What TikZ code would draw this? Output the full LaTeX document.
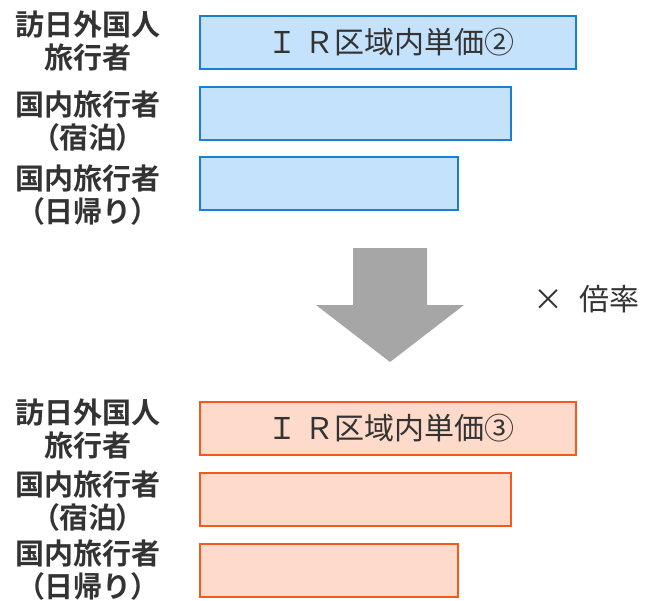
\documentclass[tikz,border=0pt]{standalone}
\usepackage{fontspec}
\newfontfamily\jp{Noto Sans CJK JP}
\newfontfamily\jpb{Noto Sans CJK JP Bold}
\newfontfamily\jpbp[RawFeature=+palt]{Noto Sans CJK JP Bold}
\definecolor{txt}{HTML}{333333}
\definecolor{bfill}{HTML}{C5E2FC}
\definecolor{bline}{HTML}{1A7ED6}
\definecolor{ofill}{HTML}{FDDACA}
\definecolor{oline}{HTML}{F45A1C}
\definecolor{arr}{HTML}{A6A6A6}
\newcommand{\pp}[1]{{\jpbp（}#1{\jpbp）}}
\begin{document}
\begin{tikzpicture}[x=1pt,y=-1pt,
  lbl/.style={align=center,text=txt,font=\jpb\fontsize{29}{33}\selectfont,inner sep=0pt},
  bbox/.style={draw=bline,fill=bfill,line width=1.6pt},
  obox/.style={draw=oline,fill=ofill,line width=1.6pt},
  btxt/.style={text=txt,font=\jp\fontsize{30}{34}\selectfont,inner sep=0pt}]
\useasboundingbox (0,0) rectangle (647,600);
% top group
\draw[bbox] (200,16) rectangle (576,69);
\node[btxt] (t1) at (391,42) {Ｉ Ｒ区域内単価②};
\draw[bbox] (200,87) rectangle (511,140);
\draw[bbox] (200,157) rectangle (458,210);
\node[lbl] (l1) at (88,41) {訪日外国人\\旅行者};
\node[lbl] (l2) at (88,121) {国内旅行者\\\pp{宿泊}};
\node[lbl] (l3) at (88,195) {国内旅行者\\\pp{日帰り}};
% arrow
\fill[arr] (353,248) -- (427,248) -- (427,305) -- (464,305) -- (390,362) -- (316,305) -- (353,305) -- cycle;
\node[btxt,anchor=west] (m) at (533,299) {×\hspace{0.55em}倍率};
% bottom group
\draw[obox] (200,402) rectangle (576,455);
\node[btxt] (t2) at (391,428) {Ｉ Ｒ区域内単価③};
\draw[obox] (200,473) rectangle (511,526);
\draw[obox] (200,544) rectangle (458,597);
\node[lbl] (l4) at (88,429) {訪日外国人\\旅行者};
\node[lbl] (l5) at (88,501) {国内旅行者\\\pp{宿泊}};
\node[lbl] (l6) at (88,570) {国内旅行者\\\pp{日帰り}};
\end{tikzpicture}
\end{document}
